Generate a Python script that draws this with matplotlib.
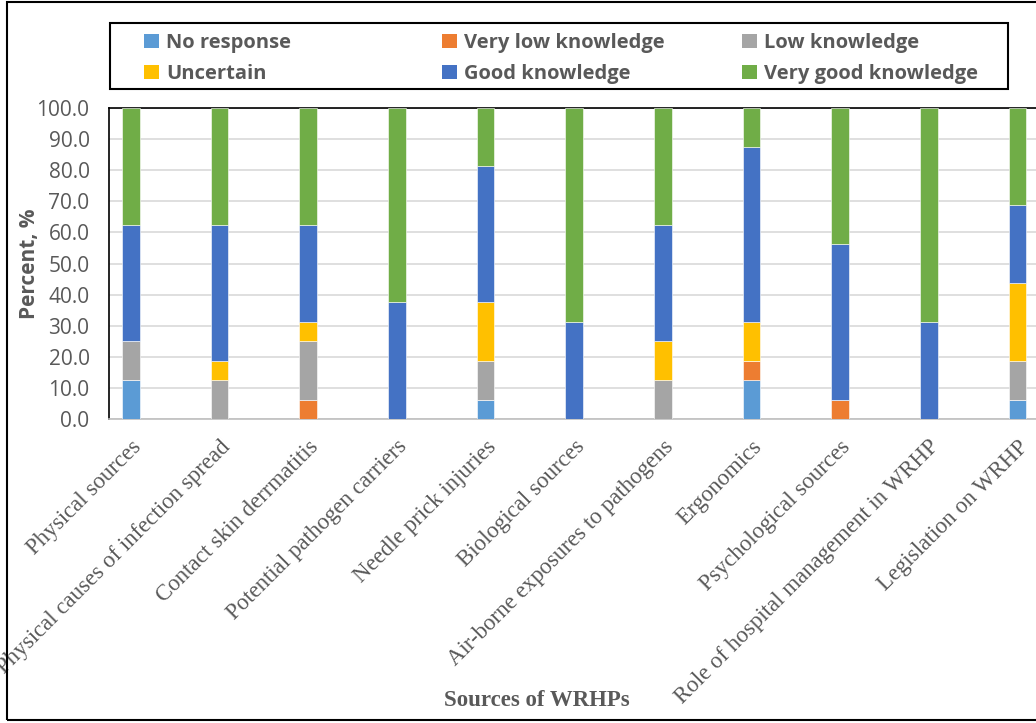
import numpy as np
import matplotlib
matplotlib.use("Agg")
import matplotlib.pyplot as plt
from matplotlib.patches import Rectangle, Patch

# Respuestas por fuente de riesgo (porcentaje de encuestados)
categorias = [
    "Physical sources",
    "Physical causes of infection spread",
    "Contact skin derrmatitis",
    "Potential pathogen carriers",
    "Needle prick injuries",
    "Biological sources",
    "Air-borne exposures to pathogens",
    "Ergonomics",
    "Psychological sources",
    "Role of hospital management in WRHP",
    "Legislation on WRHP",
]

sin_respuesta = [12.5, 0, 0, 0, 6.25, 0, 0, 12.5, 0, 0, 6.25]
muy_bajo = [0, 0, 6.25, 0, 0, 0, 0, 6.25, 6.25, 0, 0]
bajo = [12.5, 12.5, 18.75, 0, 12.5, 0, 12.5, 0, 0, 0, 12.5]
incierto = [0, 6.25, 6.25, 0, 18.75, 0, 12.5, 12.5, 0, 0, 25.0]
bueno = [37.5, 43.75, 31.25, 37.5, 43.75, 31.25, 37.5, 56.25, 50.0, 31.25, 25.0]
muy_bueno = [37.5, 37.5, 37.5, 62.5, 18.75, 68.75, 37.5, 12.5, 43.75, 68.75, 31.25]

series = [
    ("No response", sin_respuesta, "#5B9BD5"),
    ("Very low knowledge", muy_bajo, "#ED7D31"),
    ("Low knowledge", bajo, "#A5A5A5"),
    ("Uncertain", incierto, "#FFC000"),
    ("Good knowledge", bueno, "#4472C4"),
    ("Very good knowledge", muy_bueno, "#70AD47"),
]

GRIS = "#595959"
W, H = 1036, 723

fig = plt.figure(figsize=(W / 100, H / 100), dpi=100)
ax = fig.add_axes([109 / W, 1 - 419 / H, (W - 109) / W, (419 - 108) / H])

x = np.arange(len(categorias))
base = np.zeros(len(categorias))
for nombre, valores, color in series:
    ax.bar(x, valores, width=0.2, bottom=base, color=color,
           edgecolor="#ffffff", linewidth=0.4, zorder=3)
    base += np.array(valores)

ax.set_xlim(-0.248, 10.21)
ax.set_ylim(0, 100)
ax.set_yticks(np.arange(0, 101, 10))
ax.set_yticklabels([f"{v:.1f}" for v in range(0, 101, 10)],
                   family="Open Sans", fontsize=15, color=GRIS)
ax.yaxis.grid(True, color="#D9D9D9", linewidth=1.2, zorder=0)
ax.tick_params(axis="y", length=0, pad=14)
ax.tick_params(axis="x", length=0)

ax.spines["right"].set_visible(False)
ax.spines["left"].set_color("black")
ax.spines["left"].set_linewidth(1.2)
ax.spines["top"].set_color("black")
ax.spines["top"].set_linewidth(1.2)
ax.spines["bottom"].set_color("#BFBFBF")
ax.spines["bottom"].set_linewidth(1.2)

ax.set_xticks(x)
ax.set_xticklabels(categorias, rotation=45, ha="right", va="top",
                   rotation_mode="anchor", family="Liberation Serif",
                   fontsize=16.5, color=GRIS)
for t in ax.get_xticklabels():
    t.set_y(-0.04)

ax.set_ylabel("Percent, %", family="Open Sans", fontsize=15,
              fontweight="bold", color=GRIS, labelpad=0)
ax.yaxis.set_label_coords(-0.074, 0.5)
fig.text(537 / W, 1 - 700 / H, "Sources of WRHPs", ha="center", va="center",
         family="Liberation Serif", fontsize=16.5, fontweight="bold", color=GRIS)

# marco exterior y caja de la leyenda
fig.patches.append(Rectangle((7 / W, 1 - 720 / H), 1.1, 718 / H,
                             transform=fig.transFigure, fill=False,
                             edgecolor="black", linewidth=1.5))
fig.patches.append(Rectangle((110 / W, 1 - 89 / H), (1008 - 110) / W, 66 / H,
                             transform=fig.transFigure, fill=False,
                             edgecolor="black", linewidth=1.5))

# leyenda en tres columnas (dos filas)
columnas_x = [134, 432, 732]
for col, xc in enumerate(columnas_x):
    items = [series[col], series[col + 3]]
    manejadores = [Patch(facecolor=c, edgecolor="none") for _, _, c in items]
    etiquetas = [n for n, _, _ in items]
    leg = fig.legend(manejadores, etiquetas, loc="upper left",
                     bbox_to_anchor=(xc / W, 1 - 23 / H), frameon=False,
                     handlelength=0.75, handleheight=0.75, handletextpad=0.35,
                     labelspacing=0.55, borderpad=0.0,
                     prop={"family": "Open Sans", "weight": "bold", "size": 14.5})
    for t in leg.get_texts():
        t.set_color(GRIS)

fig.savefig("out.png", dpi=100)
